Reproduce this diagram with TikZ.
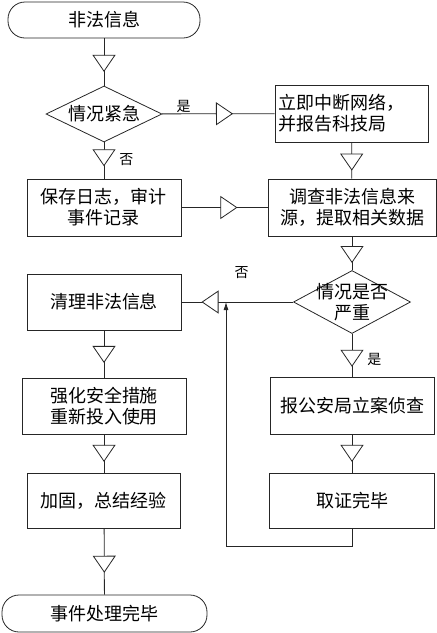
\documentclass[tikz,border=0pt]{standalone}
\usepackage{fontspec}
\setmainfont{Noto Sans CJK SC}
\usetikzlibrary{positioning, shapes.geometric, arrows.meta, decorations.markings}
\tikzset{line/.style={draw=black!85, line width=0.8pt}}
\tikzset{box/.style={line, minimum height=57pt, align=center, inner sep=3pt}}
\tikzset{term/.style={box, rounded corners=17pt, minimum height=35pt}}
\tikzset{dia/.style={line, diamond, inner sep=0pt, aspect=2}}
\tikzset{flow/.style={line, decoration={markings,
    mark=at position #1 with {\arrow{Triangle[width=23pt, length=17pt, fill=white, line width=0.8pt]}}},
    postaction={decorate}}, flow/.default=0.7}
\tikzset{lbl/.style={font=\fontsize{14}{16}\selectfont, inner sep=1pt}}

\begin{document}
\begin{tikzpicture}[x=1pt, y=-1pt, every node/.style={font=\fontsize{18}{21}\selectfont}]
    \useasboundingbox (0,0) rectangle (437,633);
    % left column
    \node[term, minimum width=192pt, minimum height=36pt] (start) at (104,20) {非法信息};
    \node[dia, minimum width=116pt, minimum height=56pt] (urgent) at (104,114) {情况紧急};
    \node[box, minimum width=154pt] (log) at (104,207.5) {保存日志，审计\\事件记录};
    \node[box, minimum width=154pt, minimum height=56pt] (clean) at (104,302) {清理非法信息};
    \node[box, minimum width=164pt, minimum height=56pt] (secure) at (104,406) {强化安全措施\\重新投入使用};
    \node[box, minimum width=153pt, minimum height=55pt] (sum) at (104,500.5) {加固，总结经验};
    \node[term, minimum width=205pt, minimum height=37pt] (done) at (104.5,613.5) {事件处理完毕};
    % right column
    \node[box, minimum width=153pt, text width=147pt, align=left] (cut) at (351.5,113.5)
        {立即中断网络，\\并报告科技局};
    \node[box, minimum width=168pt] (trace) at (352,207.5) {调查非法信息来\\源，提取相关数据};
    \node[dia, minimum width=117pt, minimum height=63pt,
        label={[align=center]center:{情况是否\\严重}}] (serious) at (352,302) {};
    \node[box, minimum width=164pt, minimum height=57pt] (police) at (352,405.5) {报公安局立案侦查};
    \node[box, minimum width=165pt, minimum height=55pt] (evid) at (352,500.5) {取证完毕};
    \coordinate (back) at (226,302);

    \draw[flow=0.71] (start) -- (urgent);
    \draw[flow=0.63] (urgent) -- node[lbl, above, pos=0.19] {是} (cut);
    \draw[flow=0.66] (urgent) -- node[lbl, right=14pt, pos=0.47] {否} (log);
    \draw[flow=0.78] (cut) -- (trace);
    \draw[flow=0.65] (log) -- (trace);
    \draw[flow=0.79] (trace) -- (serious);
    \draw[flow=0.82] (serious) -- node[lbl, above=22pt, pos=0.46] {否} (clean);
    \draw[flow=0.77] (serious) -- node[lbl, right=14pt, pos=0.61] {是} (police);
    \draw[flow=0.72] (police) -- (evid);
    \draw[flow=0.69] (clean) -- (secure);
    \draw[flow=0.72] (secure) -- (sum);
    \draw[flow=0.67] (sum) -- (done);
    \draw[line, -{Latex[length=8pt, width=5pt]}] (evid) -- ++(0,46) -| (back);
\end{tikzpicture}
\end{document}
